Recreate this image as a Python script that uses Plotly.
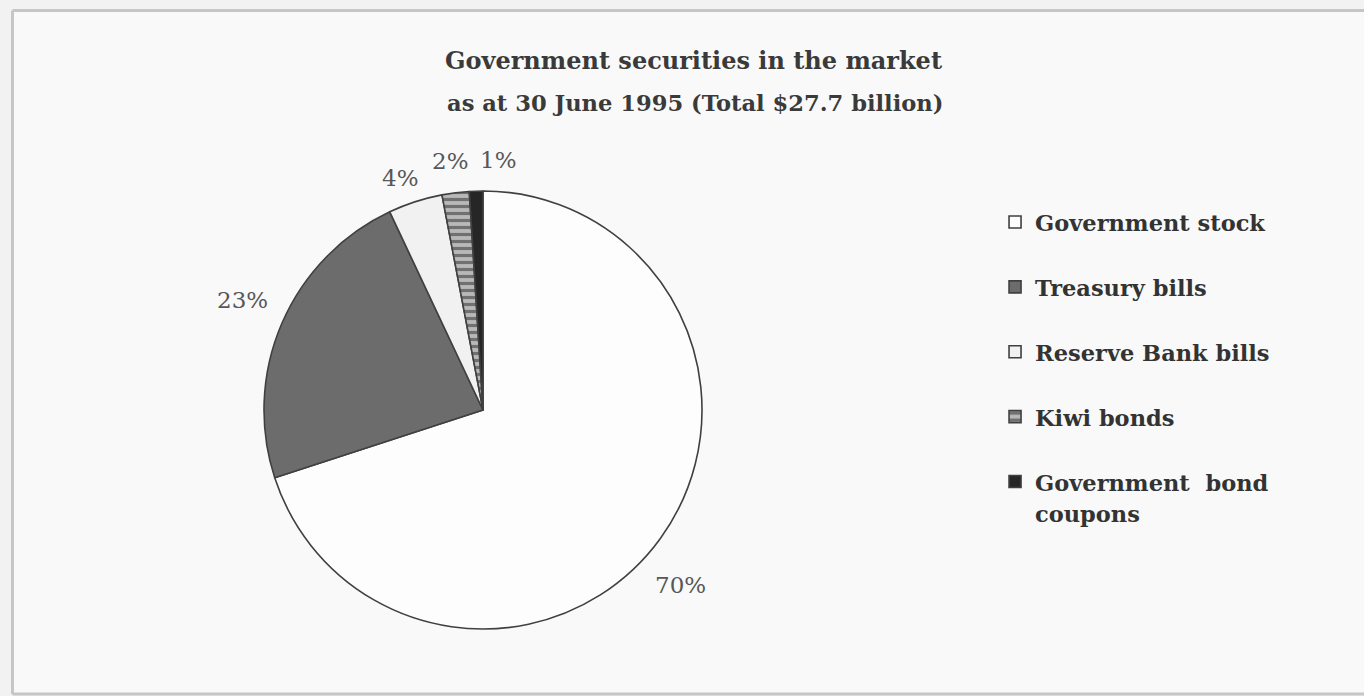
import math
import plotly.graph_objects as go

# Shares of government securities on issue, 30 June 1995 (percent of $27.7 billion)
categories = [
    "Government stock",
    "Treasury bills",
    "Reserve Bank bills",
    "Kiwi bonds",
    "Government  bond<br>coupons",
]
shares = [70, 23, 4, 2, 1]

title_line1 = "Government securities in the market"
title_line2 = "as at 30 June 1995 (Total $27.7 billion)"

W, H = 1364, 696
SERIF = "DejaVu Serif"

fills = ["#fdfdfd", "#6c6c6c", "#f1f1f1", "#9a9a9a", "#262626"]

# Single-line legend entries get a blank second line so every entry takes the
# same height as the two-line one; symbols stay aligned with the first line.
legend_names = [
    '<span style="font-size:22.5px">%s</span>' % c + ("" if "<br>" in c else "<br> ")
    for c in categories
]

# Pie geometry in pixels (centre and radius), converted to a paper domain
cx, cy, r = 483, 410, 219

fig = go.Figure(
    go.Pie(
        labels=legend_names,
        values=shares,
        sort=False,
        direction="clockwise",
        rotation=0,
        marker=dict(
            colors=fills,
            line=dict(color="#404040", width=1.6),
            pattern=dict(
                shape=["", "", "", "-", ""],
                fgcolor="#707070",
                bgcolor="#b8b8b8",
                size=7,
                solidity=0.45,
            ),
        ),
        textinfo="none",
        hoverinfo="skip",
        domain=dict(
            x=[(cx - r) / W, (cx + r) / W],
            y=[(H - cy - r) / H, (H - cy + r) / H],
        ),
        showlegend=True,
    )
)

# Percentage labels sit outside the pie at each slice's mid-angle, with a
# small hand adjustment per label so the crowded top labels do not collide.
label_radius = 252
label_nudge = [(-6, 27), (-9, -10), (-5, 8), (-1, 1), (23, 2)]
label_font = dict(family=SERIF, size=23, color="#575757")

annotations = []
total = sum(shares)
start = 0.0
for value, (dx, dy) in zip(shares, label_nudge):
    mid = (start + value / 2) / total * 2 * math.pi  # clockwise from 12 o'clock
    start += value
    px = cx + label_radius * math.sin(mid) + dx
    py = cy - label_radius * math.cos(mid) + dy
    annotations.append(dict(
        text=f"{value}%", x=px / W, y=1 - py / H, xref="paper", yref="paper",
        xanchor="center", yanchor="middle", showarrow=False, font=label_font,
    ))

title_font = dict(family=SERIF, size=24, color="#3a3a3a", weight="bold")
annotations += [
    dict(text=title_line1, x=693 / W, y=1 - 60 / H, xref="paper", yref="paper",
         xanchor="center", yanchor="middle", showarrow=False, font=title_font),
    dict(text=title_line2, x=695 / W, y=1 - 103 / H, xref="paper", yref="paper",
         xanchor="center", yanchor="middle", showarrow=False,
         font=dict(title_font, size=22.6)),
]

# Frame of the panel: left, top and bottom edges only
fx0, fy_top, fy_bot = 12.5 / W, 1 - 10.5 / H, 2 / H
frame_line = dict(color="#c6c6c6", width=3)

fig.update_layout(
    width=W,
    height=H,
    margin=dict(l=0, r=0, t=0, b=0),
    paper_bgcolor="#f2f2f2",
    plot_bgcolor="#f9f9f9",
    showlegend=True,
    legend=dict(
        x=0.7295,
        xanchor="left",
        y=1 - 200 / H,
        yanchor="top",
        valign="top",
        bgcolor="rgba(0,0,0,0)",
        font=dict(family=SERIF, size=23.8, color="#333333", weight="bold"),
        itemclick=False,
        itemdoubleclick=False,
        traceorder="normal",
    ),
    annotations=annotations,
    shapes=[
        dict(type="rect", xref="paper", yref="paper",
             x0=fx0, x1=1.05, y0=fy_bot, y1=fy_top,
             line=dict(width=0), fillcolor="#f9f9f9", layer="below"),
        dict(type="line", xref="paper", yref="paper", x0=fx0, x1=fx0,
             y0=fy_bot, y1=fy_top, line=frame_line, layer="below"),
        dict(type="line", xref="paper", yref="paper", x0=fx0, x1=1.05,
             y0=fy_top, y1=fy_top, line=frame_line, layer="below"),
        dict(type="line", xref="paper", yref="paper", x0=fx0, x1=1.05,
             y0=fy_bot, y1=fy_bot, line=frame_line, layer="below"),
    ],
)

fig.write_html("out.html")
